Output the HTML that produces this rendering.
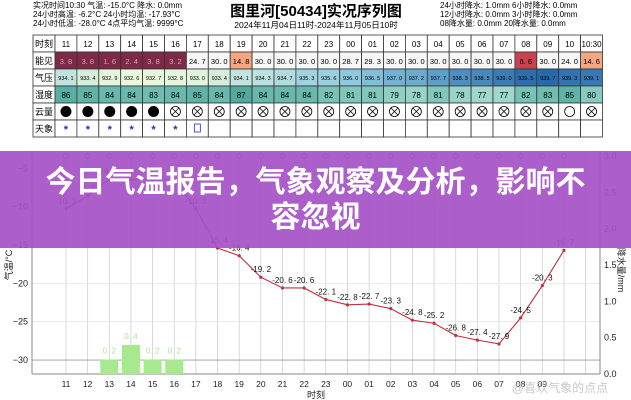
<!DOCTYPE html>
<html><head><meta charset="utf-8"><style>
body{margin:0;width:631px;height:400px;overflow:hidden;background:#fff;font-family:"Liberation Sans","Noto Sans CJK SC",sans-serif}
svg{position:absolute;left:0;top:0}
#band{position:absolute;left:0;top:151px;width:631px;height:97px;background:rgba(166,82,198,0.93);color:#fff;font-weight:bold;font-size:30px;text-align:center;line-height:35px;padding-top:14px;box-sizing:border-box;font-family:"Liberation Sans","Noto Sans CJK SC",sans-serif;white-space:nowrap}
</style></head><body>
<svg id="s" width="631" height="400" xmlns="http://www.w3.org/2000/svg" font-family="Liberation Sans, Noto Sans CJK SC, sans-serif"></svg>
<div id="band">今日气温报告，气象观察及分析，影响不<br>容忽视</div>
<script>
var s=document.getElementById('s'),h='';
function t(x,y,txt,sz,col,anc,extra){h+='<text x="'+x+'" y="'+y+'" font-size="'+sz+'" fill="'+(col||'#000')+'" text-anchor="'+(anc||'start')+'" '+(extra||'')+'>'+txt+'</text>';}
function r(x,y,w,hh,f,st){h+='<rect x="'+x+'" y="'+y+'" width="'+w+'" height="'+hh+'" fill="'+f+'" stroke="'+(st||'none')+'" stroke-width="0.8"/>';}
function l(x1,y1,x2,y2,c,w){h+='<line x1="'+x1+'" y1="'+y1+'" x2="'+x2+'" y2="'+y2+'" stroke="'+c+'" stroke-width="'+(w||1)+'"/>';}
t(33,8,'实况时间10:30 气温: -15.0°C  降水: 0.0mm',8);
t(33,17,'24小时高温: -6.2°C  24小时均温: -17.93°C',8);
t(33,26,'24小时低温: -28.0°C  4点平均气温: 9999°C',8);
t(316,16,'图里河[50434]实况序列图',15,'#000','middle','font-weight="bold"');
t(316,28,'2024年11月04日11时-2024年11月05日10时',8.5,'#000','middle');
t(440,8,'24小时降水: 1.0mm  6小时降水: 0.0mm',8);
t(440,17,'12小时降水: 0.0mm  3小时降水: 0.0mm',8);
t(440,26,'08降水量: 0.0mm    20降水量: 0.0mm',8);
var hrs=['11','12','13','14','15','16','17','18','19','20','21','22','23','00','01','02','03','04','05','06','07','08','09','10','10:30'];
var vis=[3.8,3.8,1.6,2.4,3.8,3.2,24.7,30.0,14.8,30.0,30.0,30.0,30.0,28.7,29.3,30.0,30.0,30.0,30.0,30.0,30.0,6.6,30.0,24.0,14.6];
var pr=[934.1,933.4,932.9,932.6,932.7,932.8,933.0,933.4,934.1,934.3,934.7,935.3,935.6,936.0,936.5,937.0,937.2,937.7,938.3,938.5,939.0,939.5,939.7,939.3,939.1];
var hu=[86,85,84,84,83,84,85,84,87,84,84,84,82,81,81,79,78,81,78,77,77,82,83,85,80];
var labs=['时刻','能见','气压','湿度','云量','天象'];
var x0=33,lw=22,cw=21.9,y0=35,rh=17;
function lerp(a,b,k){return 'rgb('+[0,1,2].map(function(i){return Math.round(a[i]+(b[i]-a[i])*k)}).join(',')+')';}
for(var ri=0;ri<6;ri++){var y=y0+ri*rh;r(x0,y,lw,rh,'#fff','#333');t(x0+2,y+12,labs[ri],9);}
for(var i=0;i<25;i++){var x=x0+lw+i*cw;
 r(x,y0,cw,rh,'#fff','#333');t(x+cw/2,y0+12,hrs[i],8,'#000','middle');
 var v=vis[i],vc='#f7f7f7',tc='#000';
 if(v<5){vc='#7d2a48';tc='#e0a0b0';}else if(v<10){vc='#c8434f';}else if(v<20){vc='#f4a582';}
 r(x,y0+rh,cw,rh,vc,'#333');t(x+cw/2,y0+rh+12,v.toFixed(1).replace('.','. '),7.5,tc,'middle');
 var k=(pr[i]-932.6)/(939.7-932.6);
 var pc=k<0.5?lerp([236,248,222],[138,199,222],k*2):lerp([138,199,222],[40,105,170],(k-0.5)*2);
 r(x,y0+2*rh,cw,rh,pc,'#333');t(x+cw/2,y0+2*rh+11,pr[i].toFixed(1).replace('.','. '),5.5,'#000','middle');
 var hk=(hu[i]-77)/10;var hc=lerp([160,216,204],[80,170,160],hk);
 r(x,y0+3*rh,cw,rh,hc,'#333');t(x+cw/2,y0+3*rh+12,hu[i],8,'#000','middle');
 r(x,y0+4*rh,cw,rh,'#fff','#333');var cx=x+cw/2,cy=y0+4.5*rh;
 if(i<5)h+='<circle cx="'+cx+'" cy="'+cy+'" r="5.5" fill="#000"/>';
 else if(i==23)h+='<circle cx="'+cx+'" cy="'+cy+'" r="5" fill="none" stroke="#000" stroke-width="0.8"/>';
 else{h+='<circle cx="'+cx+'" cy="'+cy+'" r="5" fill="none" stroke="#000" stroke-width="0.8"/>';l(cx-3.5,cy-3.5,cx+3.5,cy+3.5,'#000',0.8);l(cx-3.5,cy+3.5,cx+3.5,cy-3.5,'#000',0.8);}
 r(x,y0+5*rh,cw,rh,'#fff','#333');
 if(i<6)t(cx,y0+5*rh+13,'*',11,'#2030c0','middle','font-weight="bold"');
 if(i==6){r(cx-3,y0+5*rh+4,6,8,'none','#2030c0');}
}
var L=32,R=600,T=151,B=374,dx=21.65,X0=66;
function X(i){return X0+i*dx}
function Y(v){return 245+(-15-v)*7.67}
function YR(v){return 374-v*72.7}
for(var i=0;i<=24;i++){var x=X(i);if(x<R)l(x,T,x,B,'#cfcfcf',0.8);}
[-5,-10,-15,-20,-25,-30].forEach(function(v){l(L,Y(v),R,Y(v),v==-30?'#999':'#e6e6e6',0.8);t(L-4,Y(v)+3,'−'+(-v),9,'#222','end');});
l(L,T,L,B,'#888');l(R,T,R,B,'#888');l(L,B,R,B,'#888');
[0,0.5,1,1.5,2,2.5,3].forEach(function(v){t(R+4,YR(v)+3,v.toFixed(1),9,'#222');});
var tl=['11','12','13','14','15','16','17','18','19','20','21','22','23','00','01','02','03','04','05','06','07','08','09',''];
tl.forEach(function(s,i){t(X(i),387,s,8.5,'#222','middle');});
t(316,398,'时刻',9,'#222','middle');
t(12,265,'气温/°C',9,'#222','middle','transform="rotate(-90 12 265)"');
t(618,270,'降水量/mm',9,'#222','middle','transform="rotate(90 618 270)"');
[[2,0.2],[3,0.4],[4,0.2],[5,0.2]].forEach(function(b){var x=X(b[0]);r(x-9,YR(b[1]),18,B-YR(b[1]),'#a8e890');t(x,YR(b[1])-6,b[1].toFixed(1).replace('.','. '),8,'#a8e890','middle');});
var tv=[-10.3,-8.6,-6.4,-6.5,-6.5,-6.5,-10.3,-15.4,-16.4,-19.2,-20.6,-20.6,-22.1,-22.8,-22.7,-23.3,-24.8,-25.2,-26.8,-27.4,-27.9,-24.5,-20.3,-15.7];
var pts=tv.map(function(v,i){return X(i)+','+Y(v)}).join(' ');
h+='<polyline points="'+pts+'" fill="none" stroke="#c03040" stroke-width="1.1"/>';
tv.forEach(function(v,i){h+='<circle cx="'+X(i)+'" cy="'+Y(v)+'" r="1.6" fill="#c03040"/>';t(X(i),Y(v)-5,String(v).replace('.','. '),8,'#111','middle');});
for(var i=0;i<24;i++){h+='<circle cx="'+X(i)+'" cy="156" r="2.5" fill="none" stroke="#555" stroke-width="0.7"/>';}
t(560,392,'@喜欢气象的点点',12,'#c8c8c8','middle');
s.innerHTML=h;
</script>
</body></html>
